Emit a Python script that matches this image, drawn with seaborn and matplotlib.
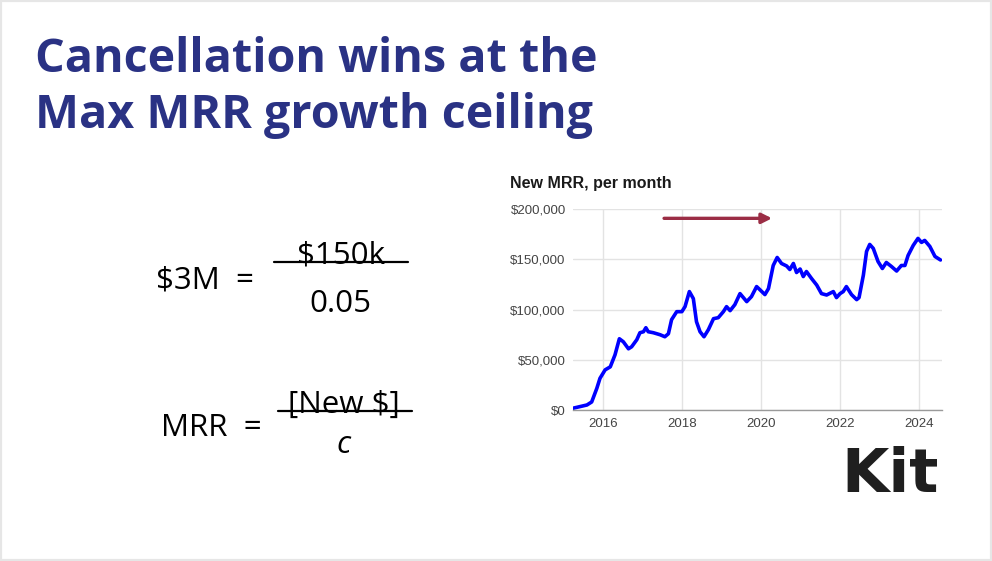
import pandas as pd
import seaborn as sns
import matplotlib.pyplot as plt
from matplotlib.patches import Rectangle
from matplotlib.ticker import FuncFormatter

# New MRR per month (decimal year, dollars in thousands)
years = [2015.24, 2015.60, 2015.72, 2015.85, 2015.93, 2016.06, 2016.19, 2016.31,
         2016.42, 2016.52, 2016.65, 2016.73, 2016.86, 2016.94, 2017.03, 2017.09,
         2017.15, 2017.28, 2017.45, 2017.57, 2017.66, 2017.74, 2017.87, 2018.00,
         2018.08, 2018.19, 2018.29, 2018.37, 2018.46, 2018.56, 2018.67, 2018.80,
         2018.92, 2019.05, 2019.13, 2019.22, 2019.34, 2019.47, 2019.64, 2019.76,
         2019.89, 2019.97, 2020.10, 2020.19, 2020.31, 2020.41, 2020.52, 2020.65,
         2020.73, 2020.82, 2020.90, 2020.99, 2021.07, 2021.15, 2021.28, 2021.41,
         2021.53, 2021.66, 2021.83, 2021.91, 2022.00, 2022.08, 2022.16, 2022.29,
         2022.42, 2022.48, 2022.59, 2022.67, 2022.75, 2022.84, 2022.96, 2023.07,
         2023.17, 2023.30, 2023.43, 2023.55, 2023.64, 2023.72, 2023.85, 2023.97,
         2024.06, 2024.14, 2024.27, 2024.40, 2024.54]
new_mrr_k = [1.7, 5, 8, 21.6, 31.6, 40, 43, 55,
             71, 68, 61, 63, 70, 77, 78, 82,
             78, 77, 75, 73, 76, 90, 98, 98,
             103, 118, 111, 88, 78, 73, 80, 91,
             92, 98, 103, 99, 105, 116, 108, 113,
             123, 120, 115, 121, 144, 152, 146, 143.5,
             140, 146, 137, 140.5, 133, 138, 131, 124.5,
             116, 114.6, 118, 112, 116, 118, 123, 115,
             110, 112, 134.5, 158, 165, 161, 148, 141,
             147, 143, 138.5, 144, 144, 154, 164, 171,
             167, 169, 163, 153, 149.5]

x_ticks = [2016, 2018, 2020, 2022, 2024]
y_ticks = [0, 50000, 100000, 150000, 200000]

df = pd.DataFrame({'year': years, 'mrr': [v * 1000 for v in new_mrr_k]})

sns.set_theme(style='white')
plt.rcParams['font.family'] = ['Open Sans', 'DejaVu Sans']

W, H = 992, 561
fig = plt.figure(figsize=(W / 100, H / 100), dpi=100)
fig.patch.set_facecolor('white')
fig.add_artist(Rectangle((0, 0), 1, 1, transform=fig.transFigure, fill=False,
                         edgecolor='#e6e6e6', lw=3))

# slide title
title_col = '#2a3284'
fig.text(35 / W, 1 - 72 / H, 'Cancellation wins at the', fontsize=33.6, fontweight='bold',
         color=title_col, va='baseline', ha='left')
fig.text(35 / W, 1 - 128 / H, 'Max MRR growth ceiling', fontsize=33.6, fontweight='bold',
         color=title_col, va='baseline', ha='left')

# equations
eq = dict(fontsize=22.5, color='black', va='baseline')
fig.text(156 / W, 1 - 288 / H, '$3M  =', ha='left', **eq)
fig.text(341 / W, 1 - 264 / H, '$150k', ha='center', **eq)
fig.text(340 / W, 1 - 312 / H, '0.05', ha='center', **eq)
fig.add_artist(plt.Line2D([274 / W, 408 / W], [1 - 262 / H, 1 - 262 / H],
                          transform=fig.transFigure, color='black', lw=1.6))

fig.text(161 / W, 1 - 436 / H, 'MRR  =', ha='left', **eq)
fig.text(344 / W, 1 - 413 / H, '[New $]', ha='center', **eq)
fig.text(344 / W, 1 - 453 / H, 'c', ha='center', style='italic', **eq)
fig.add_artist(plt.Line2D([278 / W, 412 / W], [1 - 411 / H, 1 - 411 / H],
                          transform=fig.transFigure, color='black', lw=1.6))

# chart
ax = fig.add_axes([572.7 / W, 1 - 410 / H, 369 / W, 200.7 / H])
sns.lineplot(data=df, x='year', y='mrr', ax=ax, color='#0000ff', lw=2.6,
             solid_joinstyle='round', solid_capstyle='round')
ax.set_xlim(2015.24, 2024.57)
ax.set_ylim(0, 200000)
ax.set_xticks(x_ticks)
ax.set_yticks(y_ticks)
ax.yaxis.set_major_formatter(FuncFormatter(lambda v, p: f'${v:,.0f}'))
ax.grid(True, color='#e3e3e3', lw=1)
ax.set_axisbelow(True)
for s in ['top', 'right', 'left']:
    ax.spines[s].set_visible(False)
ax.spines['bottom'].set_color('#9a9a9a')
ax.spines['bottom'].set_linewidth(1)
ax.tick_params(length=0, labelsize=9.5, labelcolor='#444444')
ax.tick_params(axis='x', pad=6)
ax.tick_params(axis='y', pad=5)
for lab in ax.get_xticklabels() + ax.get_yticklabels():
    lab.set_family('Liberation Sans')
ax.set_xlabel('')
ax.set_ylabel('')
ax.set_facecolor('white')

ax.annotate('', xy=(2020.28, 191000), xytext=(2017.55, 191000),
            arrowprops=dict(arrowstyle='-|>', color='#9b2d45', lw=2.4,
                            mutation_scale=15, shrinkA=0, shrinkB=0))

fig.text(510 / W, 1 - 188 / H, 'New MRR, per month', fontsize=11.5, fontweight='bold',
         family='Liberation Sans', color='#1a1a1a', va='baseline', ha='left')

# logo
fig.text(890 / W, 1 - 492 / H, 'Kit', fontsize=44, fontweight='heavy', family='DejaVu Sans',
         color='#1f1f1f', va='baseline', ha='center')

fig.savefig('out.png', dpi=100)
